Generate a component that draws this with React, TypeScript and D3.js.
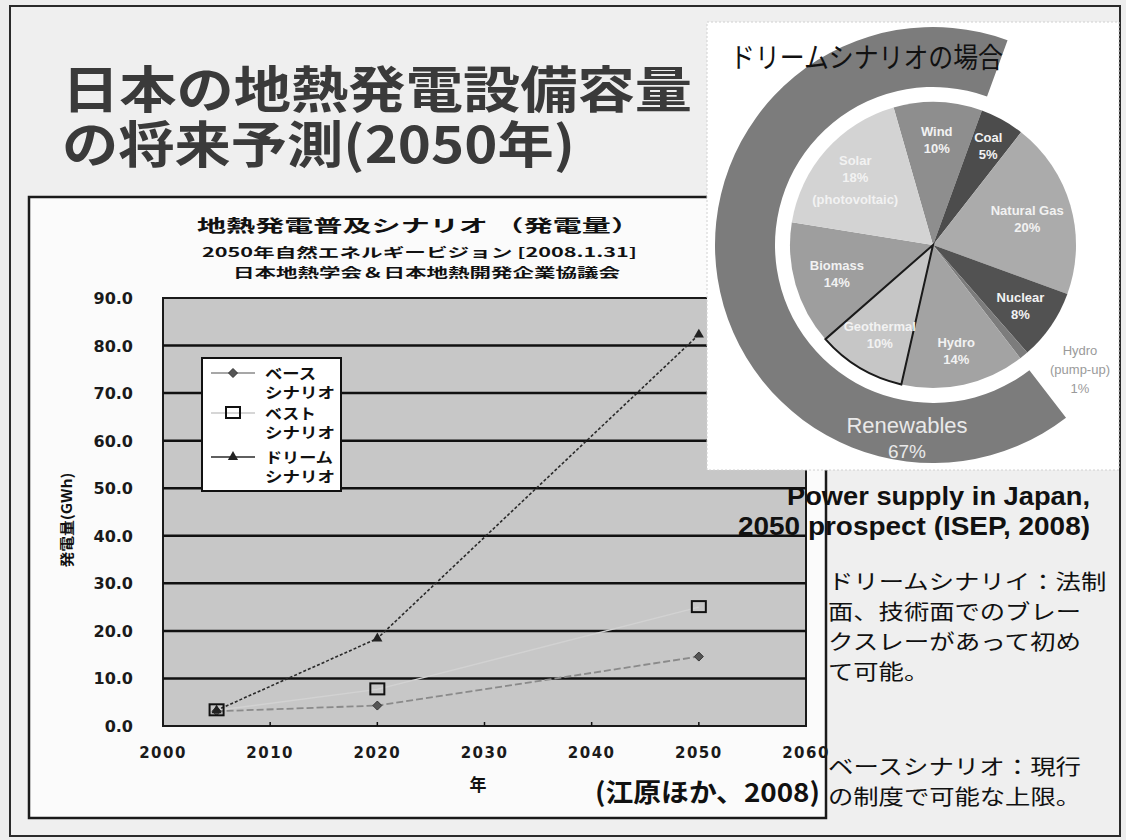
import React from "react";
import * as d3 from "d3";

// ---- data: line chart ----
const years = [2005, 2020, 2050];
const baseScenario = [3.1, 4.3, 14.6];
const bestScenario = [3.3, 7.7, 25.0];
const dreamScenario = [3.3, 18.4, 82.3];
const yTicks = [0, 10, 20, 30, 40, 50, 60, 70, 80, 90];
const xTicks = [2000, 2010, 2020, 2030, 2040, 2050, 2060];
const legendLabels = [["ベース", "シナリオ"], ["ベスト", "シナリオ"], ["ドリーム", "シナリオ"]];

// ---- data: pie ----
const energySources = ["Wind", "Coal", "Natural Gas", "Nuclear", "Hydro (pump-up)", "Hydro", "Geothermal", "Biomass", "Solar"];
const energyShares = [10, 5, 20, 8, 1, 14, 10, 14, 18];
const energyLabels = [["Wind", "10%"], ["Coal", "5%"], ["Natural Gas", "20%"], ["Nuclear", "8%"], [], ["Hydro", "14%"], ["Geothermal", "10%"], ["Biomass", "14%"], ["Solar", "18%", "(photovoltaic)"]];
const energyColors = ["#8e8e8e", "#4c4c4c", "#ababab", "#525252", "#7c7c7c", "#a3a3a3", "#c6c6c6", "#9e9e9e", "#d3d3d3"];
const labelRadius = [106, 114, 98, 106, 106, 108, 104, 100, 104];
const renewableShare = ["Renewables", "67%"];

const noteDream = ["ドリームシナリイ：法制", "面、技術面でのブレー", "クスレーがあって初め", "て可能。"];
const noteBase = ["ベースシナリオ：現行", "の制度で可能な上限。"];

const CJK = "'Noto Sans CJK JP', sans-serif";
const SANS = "'Liberation Sans', Arial, sans-serif";
const DJ = "'DejaVu Sans', sans-serif";

const x = d3.scaleLinear().domain([2000, 2060]).range([163, 806]);
const y = d3.scaleLinear().domain([0, 90]).range([726, 298]);

const lineGen = (vals: number[]) =>
  d3.line<number>().x((_, i) => x(years[i])).y((v) => y(v))(vals) || "";

const cx = 933, cy = 245, R = 143;
const pieGen = d3.pie<number>().sort(null).startAngle((-16 * Math.PI) / 180).endAngle((-16 * Math.PI) / 180 + 2 * Math.PI);
const slices = pieGen(energyShares);
const arcGen = d3.arc<any>().innerRadius(0).outerRadius(R);
const ringArc = d3.arc<any>().innerRadius(158).outerRadius(218);

function Marker({ kind, px, py }: { kind: number; px: number; py: number }) {
  if (kind === 0) {
    const s = 4.5;
    return <path d={`M${px},${py - s}L${px + s},${py}L${px},${py + s}L${px - s},${py}Z`} fill="#555" stroke="#333" strokeWidth={1} />;
  }
  if (kind === 1) {
    return <rect x={px - 7} y={py - 6} width={14} height={11} fill="none" stroke="#111" strokeWidth={2} />;
  }
  const t = d3.symbol().type(d3.symbolTriangle).size(45)() || "";
  return <path d={t} transform={`translate(${px},${py})`} fill="#222" />;
}

export default function App() {
  const hydroStart = slices[5].startAngle;
  const windEnd = slices[0].endAngle + 2 * Math.PI;
  const ringPath = ringArc({ startAngle: hydroStart, endAngle: windEnd }) || "";

  return (
    <div style={{ position: "absolute", left: 0, top: 0 }}>
      <svg width={1126} height={840} style={{ display: "block" }}>
        {/* slide */}
        <rect x={0} y={0} width={1126} height={840} fill="#ededed" />
        <rect x={10} y={6} width={1110} height={830} fill="#efefef" stroke="#2a2a2a" strokeWidth={2} />

        {/* title */}
        <text x={62} y={108} fontFamily={CJK} fontWeight={700} fontSize={50} fill="#3a3a3a" textLength={630} lengthAdjust="spacingAndGlyphs">日本の地熱発電設備容量</text>
        <text x={62} y={163} fontFamily={CJK} fontWeight={700} fontSize={50} fill="#3a3a3a" textLength={513} lengthAdjust="spacingAndGlyphs">の将来予測(2050年)</text>

        {/* chart box */}
        <rect x={29} y={197} width={797} height={621} fill="#fbfbfb" stroke="#1a1a1a" strokeWidth={2.5} />
        <text x={197} y={232} fontFamily={CJK} fontWeight={700} fontSize={17} fill="#111" textLength={443} lengthAdjust="spacingAndGlyphs">地熱発電普及シナリオ （発電量）</text>
        <text x={202} y={257} fontFamily={CJK} fontWeight={700} fontSize={13} fill="#111" textLength={435} lengthAdjust="spacingAndGlyphs">2050年自然エネルギービジョン [2008.1.31]</text>
        <text x={233} y={277} fontFamily={CJK} fontWeight={700} fontSize={13} fill="#111" textLength={387} lengthAdjust="spacingAndGlyphs">日本地熱学会＆日本地熱開発企業協議会</text>

        {/* plot area */}
        <rect x={x(2000)} y={y(90)} width={x(2060) - x(2000)} height={y(0) - y(90)} fill="#c7c7c7" stroke="#1a1a1a" strokeWidth={2} />
        {yTicks.filter((t) => t > 0 && t < 90).map((t) => (
          <line key={t} x1={x(2000)} x2={x(2060)} y1={y(t)} y2={y(t)} stroke="#111" strokeWidth={2.5} />
        ))}
        {xTicks.filter((t) => t > 2000 && t < 2060).map((t) => (
          <line key={t} x1={x(t)} x2={x(t)} y1={y(0)} y2={y(0) - 4} stroke="#111" strokeWidth={1.5} />
        ))}
        {yTicks.map((t) => (
          <text key={t} x={133} y={y(t) + 6} textAnchor="end" fontFamily={DJ} fontWeight={700} fontSize={16} fill="#1a1a1a">{t.toFixed(1)}</text>
        ))}
        {xTicks.map((t) => (
          <text key={t} x={x(t)} y={758} textAnchor="middle" fontFamily={DJ} fontWeight={700} fontSize={15} letterSpacing={1.5} fill="#1a1a1a">{t}</text>
        ))}
        <text x={478} y={791} textAnchor="middle" fontFamily={CJK} fontWeight={700} fontSize={17} fill="#111">年</text>
        <text transform="translate(72,520) rotate(-90)" textAnchor="middle" fontFamily={CJK} fontWeight={700} fontSize={14} fill="#111" textLength={95} lengthAdjust="spacingAndGlyphs">発電量(GWh)</text>
        <text x={595} y={802} fontFamily={CJK} fontWeight={700} fontSize={26} fill="#111" textLength={225} lengthAdjust="spacingAndGlyphs">(江原ほか、2008)</text>

        {/* series */}
        <path d={lineGen(bestScenario)} fill="none" stroke="#d2d2d2" strokeWidth={1.5} />
        <path d={lineGen(baseScenario)} fill="none" stroke="#8a8a8a" strokeWidth={1.8} strokeDasharray="7,3" />
        <path d={lineGen(dreamScenario)} fill="none" stroke="#2a2a2a" strokeWidth={1.6} strokeDasharray="3,2" />
        {[baseScenario, bestScenario, dreamScenario].map((s, k) =>
          s.map((v, i) => <Marker key={`${k}-${i}`} kind={k} px={x(years[i])} py={y(v)} />)
        )}

        {/* legend */}
        <rect x={202} y={358} width={139} height={133} fill="#fff" stroke="#111" strokeWidth={2} />
        {legendLabels.map((lab, k) => {
          const ly = [373, 413, 457][k];
          const stroke = ["#8a8a8a", "#c8c8c8", "#2a2a2a"][k];
          return (
            <g key={k}>
              <line x1={211} x2={255} y1={ly} y2={ly} stroke={stroke} strokeWidth={1.6} />
              <Marker kind={k} px={233} py={ly} />
              <text x={265} y={ly + 6} fontFamily={CJK} fontWeight={700} fontSize={15} fill="#111" textLength={lab[0].length * 17} lengthAdjust="spacingAndGlyphs">{lab[0]}</text>
              <text x={265} y={ly + 25} fontFamily={CJK} fontWeight={700} fontSize={15} fill="#111" textLength={70} lengthAdjust="spacingAndGlyphs">{lab[1]}</text>
            </g>
          );
        })}

        {/* pie image */}
        <rect x={707} y={22} width={412} height={448} fill="#ffffff" stroke="#d0d0d0" strokeWidth={1} strokeDasharray="2,2" />
        <path d={ringPath} transform={`translate(${cx},${cy})`} fill="#7c7c7c" />
        <g transform={`translate(${cx},${cy})`}>
          {slices.map((s, i) => (
            <path key={energySources[i]} d={arcGen(s) || ""} fill={energyColors[i]} />
          ))}
          <path d={arcGen(slices[6]) || ""} fill="none" stroke="#1a1a1a" strokeWidth={2} />
          {slices.map((s, i) => {
            const lines = energyLabels[i];
            if (!lines.length) return null;
            const la = d3.arc<any>().innerRadius(labelRadius[i]).outerRadius(labelRadius[i]);
            const [lx, ly] = la.centroid(s);
            const small = lines.length === 3;
            return (
              <text key={i} x={lx} y={ly - (lines.length - 1) * 8 + 5} textAnchor="middle" fontFamily={SANS} fontWeight={700} fontSize={13} fill="#f2f2f2">
                {lines.map((l, j) => (
                  <tspan key={j} x={lx} dy={j === 0 ? 0 : small && j === 2 ? 22 : 17}>{l}</tspan>
                ))}
              </text>
            );
          })}
          <text x={-26} y={188} textAnchor="middle" fontFamily={SANS} fontSize={22} fill="#e9e9e9">
            <tspan x={-26}>{renewableShare[0]}</tspan>
            <tspan x={-26} dy={25} fontSize={19}>{renewableShare[1]}</tspan>
          </text>
        </g>
        <text x={1080} y={355} textAnchor="middle" fontFamily={SANS} fontSize={13} fill="#9a9a9a">
          <tspan x={1080}>Hydro</tspan>
          <tspan x={1080} dy={19}>(pump-up)</tspan>
          <tspan x={1080} dy={19}>1%</tspan>
        </text>
        <text x={730} y={68} fontFamily={CJK} fontSize={28} fill="#111" textLength={273} lengthAdjust="spacingAndGlyphs">ドリームシナリオの場合</text>

        {/* caption */}
        <text x={1090} y={505} textAnchor="end" fontFamily={SANS} fontWeight={700} fontSize={25} fill="#111" textLength={303} lengthAdjust="spacingAndGlyphs">Power supply in Japan,</text>
        <text x={1090} y={535} textAnchor="end" fontFamily={SANS} fontWeight={700} fontSize={25} fill="#111" textLength={352} lengthAdjust="spacingAndGlyphs">2050 prospect (ISEP, 2008)</text>

        {/* notes */}
        {noteDream.map((l, i) => (
          <text key={l} x={828} y={589 + i * 30} fontFamily={CJK} fontSize={21} fill="#111" textLength={l.length * 25.3} lengthAdjust="spacingAndGlyphs">{l}</text>
        ))}
        {noteBase.map((l, i) => (
          <text key={l} x={828} y={774 + i * 30} fontFamily={CJK} fontSize={21} fill="#111" textLength={l.length * 25.3} lengthAdjust="spacingAndGlyphs">{l}</text>
        ))}
      </svg>
    </div>
  );
}
